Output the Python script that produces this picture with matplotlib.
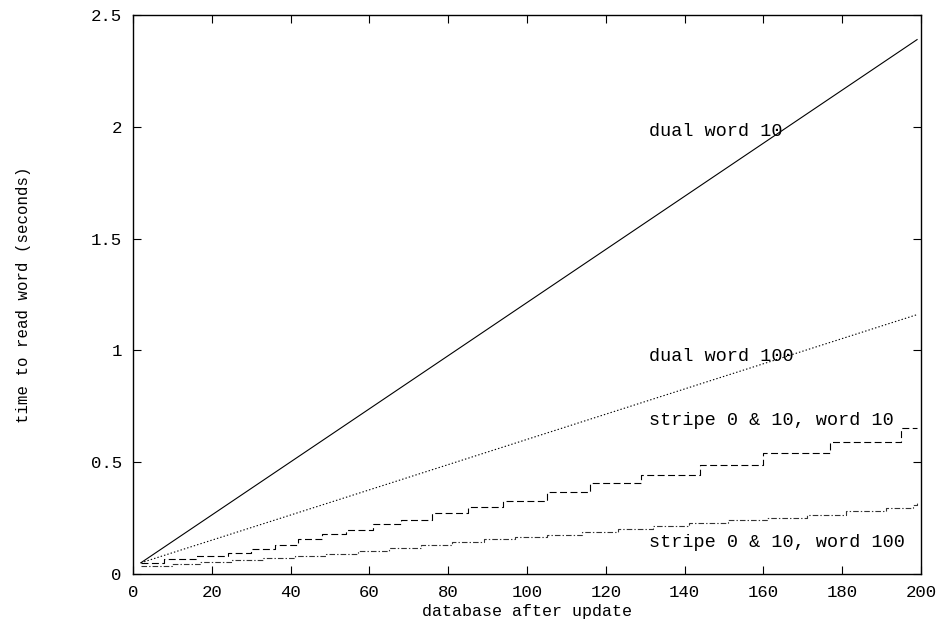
import matplotlib
matplotlib.use('Agg')
import matplotlib.pyplot as plt

plt.rcParams['font.family'] = ['Liberation Mono', 'DejaVu Sans Mono']
plt.rcParams['lines.scale_dashes'] = False

# dual layout: straight lines
dual_x = [2, 50, 100, 150, 199]
dual10_y = [0.05, 0.62, 1.214, 1.808, 2.39]
dual100_y = [0.05, 0.32, 0.602, 0.884, 1.16]

# striped layout: step curves (x where level changes, level after the step)
stripe10_x = [2, 8, 16, 24, 30, 36, 42, 48, 54, 61, 68, 76, 85, 94, 105, 116,
              129, 144, 160, 177, 195, 199]
stripe10_y = [0.05, 0.065, 0.08, 0.095, 0.11, 0.13, 0.156, 0.179, 0.196, 0.223,
              0.241, 0.272, 0.299, 0.327, 0.367, 0.406, 0.442, 0.487, 0.54,
              0.59, 0.652, 0.652]

stripe100_x = [2, 10, 17, 25, 33, 41, 49, 57, 65, 73, 81, 89, 97, 105, 114,
               123, 132, 141, 151, 161, 171, 181, 191, 198, 199]
stripe100_y = [0.035, 0.045, 0.054, 0.062, 0.07, 0.08, 0.09, 0.105, 0.115,
               0.128, 0.145, 0.155, 0.165, 0.176, 0.19, 0.203, 0.215, 0.228,
               0.24, 0.252, 0.266, 0.28, 0.294, 0.31, 0.32]

x_ticks = [0, 20, 40, 60, 80, 100, 120, 140, 160, 180, 200]
y_ticks = [0, 0.5, 1, 1.5, 2, 2.5]
y_tick_labels = ['0', '0.5', '1', '1.5', '2', '2.5']

fig = plt.figure(figsize=(9.43, 6.2), dpi=100)
ax = fig.add_axes([0.141, 0.0742, 0.8357, 0.9016])

ax.plot(dual_x, dual10_y, color='black', lw=0.8, ls='-')
ax.plot(dual_x, dual100_y, color='black', lw=0.8, ls=(0, (1, 1.5)))
ax.step(stripe10_x, stripe10_y, where='post', color='black', lw=0.8,
        ls=(0, (5, 2.5)))
ax.step(stripe100_x, stripe100_y, where='post', color='#333333', lw=0.8,
        ls=(0, (4, 1.5, 1, 1.5)))

lab_fs = 13.3
ax.text(131, 1.978, 'dual word 10', fontsize=lab_fs, va='center')
ax.text(131, 0.973, 'dual word 100', fontsize=lab_fs, va='center')
ax.text(131, 0.6875, 'stripe 0 & 10, word 10', fontsize=lab_fs, va='center')
ax.text(131, 0.143, 'stripe 0 & 10, word 100', fontsize=lab_fs, va='center')

ax.set_xlim(0, 200)
ax.set_ylim(0, 2.5)
ax.set_xticks(x_ticks)
ax.set_yticks(y_ticks)
ax.set_yticklabels(y_tick_labels)
ax.tick_params(direction='in', length=6, width=0.8, top=True, right=True,
               labelsize=12.5, pad=8)
for s in ax.spines.values():
    s.set_linewidth(1.0)

ax.set_xlabel('database after update', fontsize=12, labelpad=3)
ax.set_ylabel('time to read word (seconds)', fontsize=11.3, labelpad=43)

fig.savefig('out.png', dpi=100)
